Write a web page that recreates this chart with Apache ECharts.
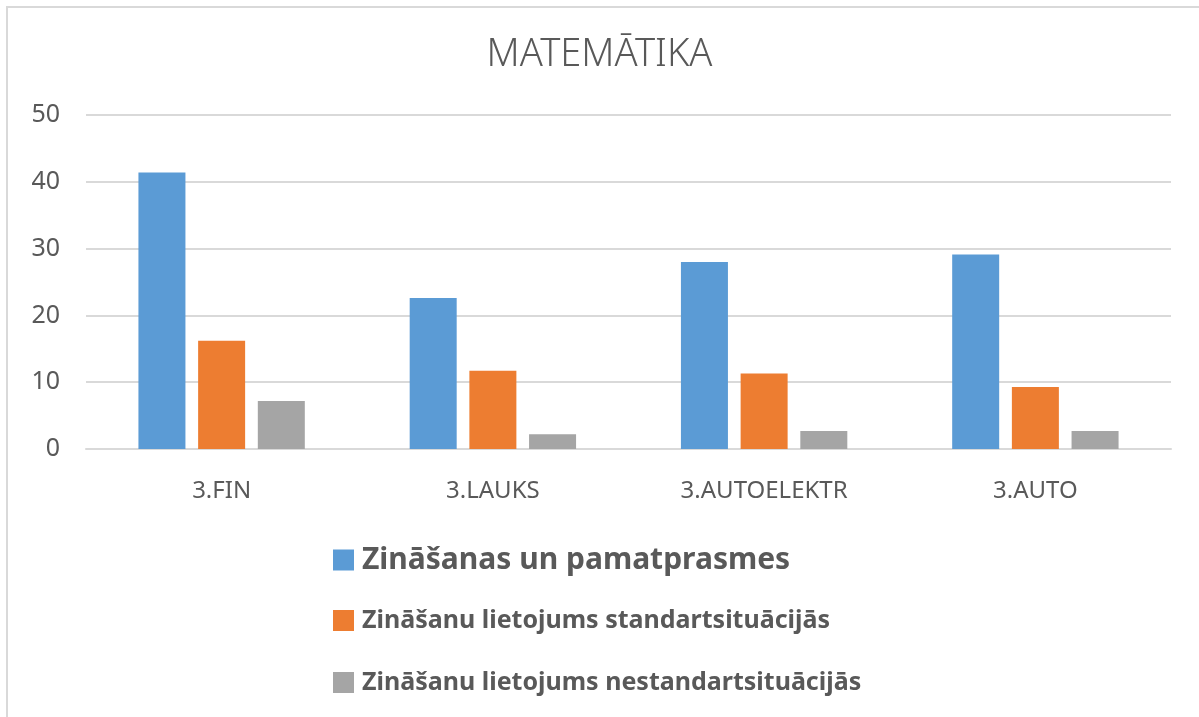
<!DOCTYPE html>
<html>
<head>
<meta charset="utf-8">
<script src="https://cdn.jsdelivr.net/npm/echarts@6/dist/echarts.min.js"></script>
<style>
	html, body { margin: 0; padding: 0; background: #fff; }
	.frame {
		position: absolute;
		left: 6px; top: 6px;
		width: 1199px; height: 717px;
		border: 2px solid #d9d9d9;
		box-sizing: border-box;
	}
	#chart { position: absolute; left: 0; top: 0; width: 1199px; height: 717px; }
</style>
</head>
<body>
<div class="frame"></div>
<div id="chart"></div>
<script>
	var categories = ['3.FIN', '3.LAUKS', '3.AUTOELEKTR', '3.AUTO'];
	var seriesNames = [
		'Zināšanas un pamatprasmes',
		'Zināšanu lietojums standartsituācijās',
		'Zināšanu lietojums nestandartsituācijās'
	];
	var pamatprasmes = [41.4, 22.6, 28.0, 29.1];
	var standart = [16.2, 11.7, 11.3, 9.3];
	var nestandart = [7.2, 2.2, 2.7, 2.7];
	var yTicks = [0, 10, 20, 30, 40, 50];

	var colors = ['#5b9bd5', '#ed7d31', '#a5a5a5'];
	var values = [pamatprasmes, standart, nestandart];
	var font = '"Noto Sans", "Open Sans", sans-serif';

	var echart = echarts.init(document.getElementById('chart'));

	// one legend per row so the rows can sit exactly where they are
	var legendTops = [545, 608, 670];
	var legendSizes = [30, 25, 25];
	var legends = seriesNames.map(function(name, i) {
		return {
			data: [name],
			left: 333,
			top: legendTops[i],
			padding: 0,
			itemWidth: 21,
			itemHeight: 21,
			itemGap: 0,
			icon: 'rect',
			selectedMode: false,
			textStyle: {
				color: '#595959',
				fontFamily: font,
				fontWeight: 'bold',
				fontSize: legendSizes[i],
				padding: [0, 0, 0, 3]
			}
		};
	});

	var option = {
		animation: false,
		color: colors,
		title: {
			text: 'MATEMĀTIKA',
			left: 'center',
			top: 36,
			padding: 0,
			textStyle: {
				color: '#595959',
				fontFamily: font,
				fontWeight: 300,
				fontSize: 38
			}
		},
		legend: legends,
		grid: { left: 86, right: 28, top: 115, bottom: 268, containLabel: false },
		xAxis: {
			type: 'category',
			data: categories,
			axisLine: { lineStyle: { color: '#d9d9d9', width: 2 } },
			axisTick: { show: false },
			axisLabel: { color: '#595959', fontSize: 24, fontFamily: font, margin: 30 }
		},
		yAxis: {
			type: 'value',
			min: yTicks[0],
			max: yTicks[yTicks.length - 1],
			interval: 10,
			axisLine: { show: false },
			axisTick: { show: false },
			axisLabel: { color: '#595959', fontSize: 25, fontFamily: font, margin: 26 },
			splitLine: { lineStyle: { color: '#d9d9d9', width: 2 } }
		},
		series: seriesNames.map(function(name, i) {
			return {
				name: name,
				type: 'bar',
				data: values[i],
				barWidth: 47,
				barGap: '27%'
			};
		})
	};

	echart.setOption(option);
</script>
</body>
</html>
